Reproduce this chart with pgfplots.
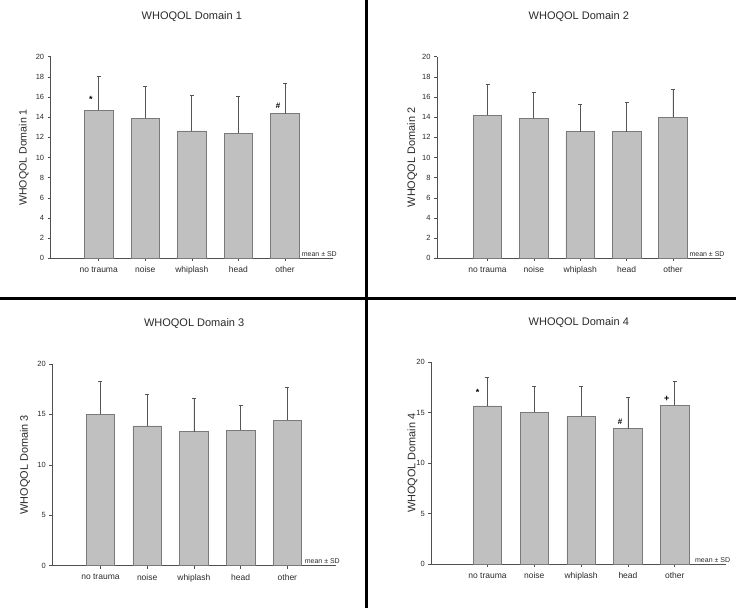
\documentclass[border=0pt]{standalone}
\usepackage{pgfplots}
\pgfplotsset{compat=1.18}
\usepackage{pgfplotstable}
\usepackage{fontspec}
\setmainfont{Liberation Sans}
\definecolor{barfill}{HTML}{C0C0C0}
\definecolor{baredge}{HTML}{7A7A7A}
\definecolor{errc}{HTML}{555555}
\definecolor{axc}{HTML}{505050}
\definecolor{txt}{HTML}{2A2A2A}

\pgfplotstableread{
x y e
1 14.69 3.31
2 13.87 3.22
3 12.64 3.53
4 12.41 3.66
5 14.36 3.03
}\dataA
\pgfplotstableread{
x y e
1 14.20 3.06
2 13.87 2.56
3 12.56 2.74
4 12.56 2.88
5 13.97 2.76
}\dataB
\pgfplotstableread{
x y e
1 15.00 3.27
2 13.87 3.13
3 13.30 3.30
4 13.43 2.44
5 14.43 3.24
}\dataC
\pgfplotstableread{
x y e
1 15.67 2.86
2 15.03 2.60
3 14.63 3.00
4 13.43 3.10
5 15.73 2.40
}\dataD

\pgfplotsset{whostyle/.style={
  scale only axis, ymin=0, ymax=20, clip=false,
  axis lines*=left,
  axis line style={axc, line width=0.6pt},
  tick style={axc, line width=0.6pt},
  tick align=outside, major tick length=3pt,
  xtick={1,2,3,4,5},
  xticklabels={no trauma,noise,whiplash,head,other},
  x tick label style={font=\fontsize{8.5}{10}\selectfont, text=txt, yshift=-2pt},
  y tick label style={font=\fontsize{7.5}{9}\selectfont, text=txt},
  /pgf/number format/assume math mode=true,
  title style={font=\fontsize{11}{13}\selectfont, text=txt, at={(0.5,1)}, anchor=center, yshift=34pt},
  ybar, bar width=28.5pt,
}}
\pgfplotsset{barplot/.style={fill=barfill, draw=baredge, line width=0.6pt,
  error bars/.cd, y dir=plus, y explicit,
  error bar style={errc, line width=0.8pt},
  error mark options={errc, rotate=90, mark size=2pt, line width=0.8pt}}}
\newcommand{\msd}{\node[anchor=south east, inner sep=0pt, font=\fontsize{7}{8}\selectfont, text=txt] at (rel axis cs:1,0) [xshift=4pt, yshift=1.5pt] {mean ± SD};}

\begin{document}
\begin{tikzpicture}[x=1pt,y=1pt]
\useasboundingbox (0pt,0pt) rectangle (736pt,608pt);

\begin{axis}[whostyle, at={(50.7pt,349.7pt)}, anchor=south west,
  width=282.3pt, height=201.6pt, xmin=-0.03, xmax=6.03,
  ytick={0,2,...,20},
  title={WHOQOL Domain 1},
  ylabel={WHOQOL Domain 1},
  ylabel style={font=\fontsize{10.6}{13}\selectfont, text=txt, at={(axis description cs:-0.095,0.5)}, anchor=center}]
\addplot[barplot] table[x=x, y=y, y error=e] {\dataA};
\msd
\node[font=\bfseries\fontsize{9}{10}\selectfont] at (axis cs:0.83,15.8) {*};
\node[font=\bfseries\fontsize{8}{10}\selectfont] at (axis cs:4.85,15.1) {\#};
\end{axis}

\begin{axis}[whostyle, at={(437pt,349.7pt)}, anchor=south west,
  width=283.7pt, height=201.6pt, xmin=-0.09, xmax=6.03,
  ytick={0,2,...,20},
  title={WHOQOL Domain 2},
  ylabel={WHOQOL Domain 2},
  ylabel style={font=\fontsize{10.9}{13}\selectfont, text=txt, at={(axis description cs:-0.087,0.5)}, anchor=center}]
\addplot[barplot] table[x=x, y=y, y error=e] {\dataB};
\msd
\end{axis}

\begin{axis}[whostyle, at={(52.3pt,42.3pt)}, anchor=south west,
  width=283.7pt, height=201.7pt, xmin=-0.03, xmax=6.04,
  ytick={0,5,...,20},
  title={WHOQOL Domain 3},
  ylabel={WHOQOL Domain 3},
  ylabel style={font=\fontsize{10.9}{13}\selectfont, text=txt, at={(axis description cs:-0.096,0.5)}, anchor=center}]
\addplot[barplot] table[x=x, y=y, y error=e] {\dataC};
\msd
\end{axis}

\begin{axis}[whostyle, at={(431.3pt,44pt)}, anchor=south west,
  width=295pt, height=201.7pt, xmin=-0.2, xmax=6.1,
  ytick={0,5,...,20},
  title={WHOQOL Domain 4},
  ylabel={WHOQOL Domain 4},
  ylabel style={font=\fontsize{10.9}{13}\selectfont, text=txt, at={(axis description cs:-0.064,0.5)}, anchor=center}]
\addplot[barplot] table[x=x, y=y, y error=e] {\dataD};
\msd
\node[font=\bfseries\fontsize{9}{10}\selectfont] at (axis cs:0.79,17.0) {*};
\node[font=\bfseries\fontsize{8}{10}\selectfont] at (axis cs:3.83,14.1) {\#};
\node[font=\bfseries\fontsize{9}{10}\selectfont] at (axis cs:4.83,16.4) {+};
\end{axis}

\draw[line width=3pt, black] (366pt,0pt) -- (366pt,608pt);
\draw[line width=3pt, black] (0pt,309pt) -- (736pt,309pt);
\end{tikzpicture}
\end{document}
